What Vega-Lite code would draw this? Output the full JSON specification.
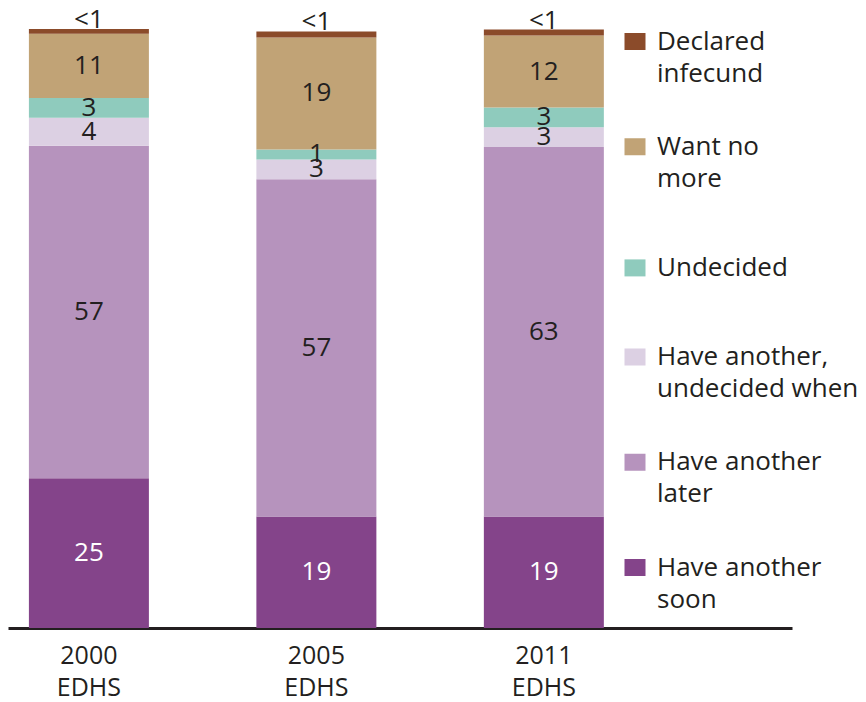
{
  "$schema": "https://vega.github.io/schema/vega-lite/v6.json",
  "width": 784,
  "height": 599,
  "autosize": {"type": "none"},
  "padding": {"left": 8, "top": 29, "right": 74, "bottom": 74},
  "background": "white",
  "config": {
    "view": {"stroke": null},
    "font": "Open Sans",
    "text": {"font": "Open Sans"}
  },
  "data": {
    "values": [
      {"survey": "2000 EDHS", "category": "Have another soon", "value": 25.0, "label": "25", "order": 1},
      {"survey": "2000 EDHS", "category": "Have another later", "value": 55.5, "label": "57", "order": 2},
      {"survey": "2000 EDHS", "category": "Have another, undecided when", "value": 4.7, "label": "4", "order": 3},
      {"survey": "2000 EDHS", "category": "Undecided", "value": 3.3, "label": "3", "order": 4},
      {"survey": "2000 EDHS", "category": "Want no more", "value": 10.7, "label": "11", "order": 5},
      {"survey": "2000 EDHS", "category": "Declared infecund", "value": 0.8, "label": "<1", "order": 6},
      {"survey": "2005 EDHS", "category": "Have another soon", "value": 18.6, "label": "19", "order": 1},
      {"survey": "2005 EDHS", "category": "Have another later", "value": 56.3, "label": "57", "order": 2},
      {"survey": "2005 EDHS", "category": "Have another, undecided when", "value": 3.3, "label": "3", "order": 3},
      {"survey": "2005 EDHS", "category": "Undecided", "value": 1.7, "label": "1", "order": 4},
      {"survey": "2005 EDHS", "category": "Want no more", "value": 18.7, "label": "19", "order": 5},
      {"survey": "2005 EDHS", "category": "Declared infecund", "value": 1.0, "label": "<1", "order": 6},
      {"survey": "2011 EDHS", "category": "Have another soon", "value": 18.6, "label": "19", "order": 1},
      {"survey": "2011 EDHS", "category": "Have another later", "value": 61.7, "label": "63", "order": 2},
      {"survey": "2011 EDHS", "category": "Have another, undecided when", "value": 3.3, "label": "3", "order": 3},
      {"survey": "2011 EDHS", "category": "Undecided", "value": 3.3, "label": "3", "order": 4},
      {"survey": "2011 EDHS", "category": "Want no more", "value": 12.0, "label": "12", "order": 5},
      {"survey": "2011 EDHS", "category": "Declared infecund", "value": 1.0, "label": "<1", "order": 6}
    ]
  },
  "transform": [
    {"stack": "value", "groupby": ["survey"], "sort": [{"field": "order", "order": "ascending"}], "as": ["y0", "y1"]},
    {"calculate": "(datum.y0 + datum.y1) / 2", "as": "ymid"}
  ],
  "encoding": {
    "x": {
      "field": "survey",
      "type": "nominal",
      "sort": ["2000 EDHS", "2005 EDHS", "2011 EDHS"],
      "scale": {"paddingInner": 0.4725, "paddingOuter": 0.4595, "align": 0.1},
      "axis": {
        "title": null,
        "ticks": false,
        "domain": true,
        "domainColor": "#231F20",
        "domainWidth": 3,
        "labelAngle": 0,
        "labelFont": "Open Sans",
        "labelFontSize": 25,
        "labelColor": "#231F20",
        "labelPadding": 15,
        "labelLineHeight": 32,
        "labelExpr": "split(datum.label, ' ')"
      }
    }
  },
  "layer": [
    {
      "mark": {"type": "bar"},
      "encoding": {
        "y": {"field": "y1", "type": "quantitative", "scale": {"domain": [0, 100]}, "axis": null},
        "y2": {"field": "y0"},
        "color": {
          "field": "category",
          "type": "nominal",
          "scale": {
            "domain": ["Declared infecund", "Want no more", "Undecided", "Have another, undecided when", "Have another later", "Have another soon"],
            "range": ["#8B4B2A", "#C1A376", "#8FCBBD", "#DCD0E3", "#B693BD", "#84448A"]
          },
          "legend": {
            "orient": "none",
            "legendX": 614,
            "legendY": -35.5,
            "title": null,
            "clipHeight": 96,
            "rowPadding": 9.2,
            "labelFont": "Open Sans",
            "labelFontSize": 26,
            "labelColor": "#231F20",
            "labelOffset": 9,
            "labelLimit": 400,
            "symbolSize": 441,
            "symbolType": "M-1,-0.81H1V0.81H-1Z",
            "labelExpr": "datum.label === 'Declared infecund' ? ['Declared', 'infecund'] : datum.label === 'Want no more' ? ['Want no', 'more'] : datum.label === 'Have another, undecided when' ? ['Have another,', 'undecided when'] : datum.label === 'Have another later' ? ['Have another', 'later'] : datum.label === 'Have another soon' ? ['Have another', 'soon'] : datum.label",
            "encode": {
              "labels": {"update": {"lineHeight": {"value": 32}, "dy": {"signal": "datum.value === 'Undecided' ? 16 : 0"}}},
              "symbols": {"update": {
                "shape": {"signal": "datum.value === 'Undecided' ? 'M-1,0.714H1V2.333H-1Z' : 'M-1,-0.81H1V0.81H-1Z'"},
                "fill": {"signal": "datum.value === 'Have another soon' ? '#6E4275' : datum.value === 'Have another, undecided when' ? '#CAB6D6' : datum.value === 'Have another later' ? '#B594C0' : datum.value === 'Undecided' ? '#8FCBBD' : datum.value === 'Want no more' ? '#C1A376' : '#8B4B2A'"}
              }}
            }
          }
        },
        "order": {"field": "order", "type": "quantitative"}
      }
    },
    {
      "transform": [{"filter": "datum.category !== 'Declared infecund'"}],
      "mark": {"type": "text", "fontSize": 26, "baseline": "middle", "align": "center"},
      "encoding": {
        "y": {"field": "ymid", "type": "quantitative"},
        "text": {"field": "label"},
        "color": {
          "condition": {"test": "datum.category === 'Have another soon'", "value": "#FFFFFF"},
          "value": "#231F20"
        }
      }
    },
    {
      "transform": [{"filter": "datum.category === 'Declared infecund'"}],
      "mark": {"type": "text", "fontSize": 26, "baseline": "alphabetic", "align": "center", "dy": -1, "color": "#231F20"},
      "encoding": {
        "y": {"field": "y1", "type": "quantitative"},
        "text": {"field": "label"}
      }
    }
  ]
}
